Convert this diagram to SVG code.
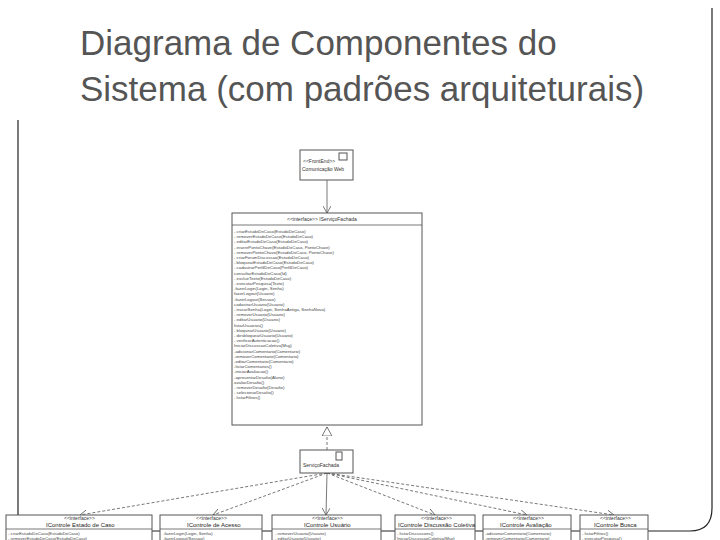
<svg xmlns="http://www.w3.org/2000/svg" width="720" height="540" viewBox="0 0 720 540">
<defs>
<style>
.t{font-family:"Liberation Sans",Arial,sans-serif;fill:#555;font-size:35px}
.b{fill:#fff;stroke:#555;stroke-width:1}
.s{font-family:"Liberation Sans",Arial,sans-serif;fill:#333;font-size:5px}
.m{font-family:"Liberation Sans",Arial,sans-serif;fill:#444;font-size:4.3px}
.h{font-family:"Liberation Sans",Arial,sans-serif;fill:#222;font-size:6px}
.c{stroke:#555;stroke-width:0.8;fill:none}
.d{stroke:#555;stroke-width:0.8;fill:none;stroke-dasharray:3,2}
</style>
<marker id="v" markerWidth="8" markerHeight="8" refX="7" refY="4" orient="auto" markerUnits="userSpaceOnUse"><path d="M0,0 L7,4 L0,8" fill="none" stroke="#555" stroke-width="0.8"/></marker>
<marker id="tri" markerWidth="10" markerHeight="10" refX="9" refY="5" orient="auto" markerUnits="userSpaceOnUse"><path d="M0,0 L9,5 L0,10 Z" fill="#fff" stroke="#555" stroke-width="0.8"/></marker>
</defs>
<path d="M18,120 L18,531 L650,531 M650,531 L690,531 Q712,531 712,508 L712,8" fill="none" stroke="#222" stroke-width="1.2"/>
<text class="t" x="80" y="55">Diagrama de Componentes do</text>
<text class="t" x="80" y="101">Sistema (com padrões arquiteturais)</text>
<g id="connectors">
<line class="c" x1="327" y1="180" x2="327" y2="213" marker-end="url(#v)"/>
<line class="d" x1="327" y1="450" x2="327" y2="427" marker-end="url(#tri)"/>
<line class="d" x1="327" y1="473" x2="80" y2="515" marker-end="url(#v)"/>
<line class="d" x1="327" y1="473" x2="213" y2="515" marker-end="url(#v)"/>
<line class="c" x1="327" y1="473" x2="326" y2="515" marker-end="url(#v)"/>
<line class="d" x1="327" y1="473" x2="435" y2="515" marker-end="url(#v)"/>
<line class="d" x1="327" y1="473" x2="527" y2="515" marker-end="url(#v)"/>
<line class="d" x1="327" y1="473" x2="614" y2="515" marker-end="url(#v)"/>
</g>
<g id="web">
<rect class="b" x="300" y="150" width="53" height="30"/>
<rect class="b" x="339" y="153" width="8" height="7"/>
<text class="s" x="303" y="163">&lt;&lt;FrontEnd&gt;&gt;</text>
<text class="s" x="302" y="171">Comunicação Web</text>
</g>
<g id="iservico">
<rect class="b" x="232" y="213" width="190" height="212"/>
<line class="c" x1="232" y1="225" x2="422" y2="225"/>
<text class="s" x="287" y="221">&lt;&lt;interface&gt;&gt; IServiçoFachada</text>
<g class="m">
<text x="234" y="233">- criarEstudoDeCaso(EstudoDeCaso)</text>
<text x="234" y="238.2">- removerEstudoDeCaso(EstudoDeCaso)</text>
<text x="234" y="243.4">- editarEstudoDeCaso(EstudoDeCaso)</text>
<text x="234" y="248.6">- inserirPontoChave(EstudoDeCaso, PontoChave)</text>
<text x="234" y="253.8">- removerPontoChave(EstudoDeCaso, PontoChave)</text>
<text x="234" y="259">- criarForumDiscussao(EstudoDeCaso)</text>
<text x="234" y="264.2">- bloquearEstudoDeCaso(EstudoDeCaso)</text>
<text x="234" y="269.4">- cadastrarPerfilDeCaso(PerfilDeCaso)</text>
<text x="234" y="274.6">  consultarEstudoDeCaso(Id)</text>
<text x="234" y="279.8">- excluirTexto(EstudoDeCaso)</text>
<text x="234" y="285">- executarPesquisa(Texto)</text>
<text x="234" y="290.2">-fazerLogin(Login, Senha)</text>
<text x="234" y="295.4"> fazerLogout(Usuario)</text>
<text x="234" y="300.6">-fazerLogout(Sessao)</text>
<text x="234" y="305.8"> cadastrarUsuario(Usuario)</text>
<text x="234" y="311">- trocarSenha(Login, SenhaAntiga, SenhaNova)</text>
<text x="234" y="316.2">- removerUsuario(Usuario)</text>
<text x="234" y="321.4">- editarUsuario(Usuario)</text>
<text x="234" y="326.6">  listarUsuarios()</text>
<text x="234" y="331.8">- bloquearUsuario(Usuario)</text>
<text x="234" y="337">- desbloquearUsuario(Usuario)</text>
<text x="234" y="342.2">- verificarAutenticacao()</text>
<text x="234" y="347.4"> IniciarDiscussaoColetiva(Msg)</text>
<text x="234" y="352.6">-adicionarComentario(Comentario)</text>
<text x="234" y="357.8">-removerComentario(Comentario)</text>
<text x="234" y="363">-editarComentario(Comentario)</text>
<text x="234" y="368.2">-listarComentarios()</text>
<text x="234" y="373.4">-iniciarAvaliacao()</text>
<text x="234" y="378.6">-apresentarDesafio(Aluno)</text>
<text x="234" y="383.8">  avaliarDesafio()</text>
<text x="234" y="389">- removerDesafio(Desafio)</text>
<text x="234" y="394.2">- selecionarDesafio()</text>
<text x="234" y="399.4">- listarFiltros()</text>
</g>
</g>
<g id="fachada">
<rect class="b" x="300" y="450" width="53" height="23"/>
<rect class="b" x="336" y="452" width="6" height="8"/>
<text class="s" x="303" y="467">ServiçoFachada</text>
</g>
<g id="i1">
<rect class="b" x="6" y="515" width="146" height="30"/>
<line class="c" x1="6" y1="529" x2="152" y2="529"/>
<text class="s" x="64" y="520">&lt;&lt;interface&gt;&gt;</text>
<text class="h" x="46" y="527">IControle Estado de Caso</text>
<text class="m" x="8" y="535">- criarEstudoDeCaso(EstudoDeCaso)</text>
<text class="m" x="8" y="540">- removerEstudoDeCaso(EstudoDeCaso)</text>
</g>
<g id="i2">
<rect class="b" x="160" y="515" width="102" height="30"/>
<line class="c" x1="160" y1="529" x2="262" y2="529"/>
<text class="s" x="196" y="520">&lt;&lt;interface&gt;&gt;</text>
<text class="h" x="187" y="527">IControle de Acesso</text>
<text class="m" x="163" y="535">-fazerLogin(Login, Senha)</text>
<text class="m" x="163" y="540">-fazerLogout(Sessao)</text>
</g>
<g id="i3">
<rect class="b" x="272" y="515" width="109" height="30"/>
<line class="c" x1="272" y1="529" x2="381" y2="529"/>
<text class="s" x="312" y="520">&lt;&lt;interface&gt;&gt;</text>
<text class="h" x="304" y="527">IControle Usuário</text>
<text class="m" x="275" y="535">- removerUsuario(Usuario)</text>
<text class="m" x="275" y="540">- editarUsuario(Usuario)</text>
</g>
<g id="i4">
<rect class="b" x="395" y="515" width="80" height="30"/>
<line class="c" x1="395" y1="529" x2="475" y2="529"/>
<text class="s" x="421" y="520">&lt;&lt;interface&gt;&gt;</text>
<text class="h" x="398" y="527">IControle Discussão Coletiva</text>
<text class="m" x="397" y="535">- listarDiscussoes()</text>
<text class="m" x="397" y="540">IniciarDiscussaoColetiva(Msg)</text>
</g>
<g id="i5">
<rect class="b" x="483" y="515" width="88" height="30"/>
<line class="c" x1="483" y1="529" x2="571" y2="529"/>
<text class="s" x="513" y="520">&lt;&lt;interface&gt;&gt;</text>
<text class="h" x="500" y="527">IControle Avaliação</text>
<text class="m" x="485" y="535">-adicionarComentario(Comentario)</text>
<text class="m" x="485" y="540">-removerComentario(Comentario)</text>
</g>
<g id="i6">
<rect class="b" x="580" y="515" width="68" height="30"/>
<line class="c" x1="580" y1="529" x2="648" y2="529"/>
<text class="s" x="600" y="520">&lt;&lt;interface&gt;&gt;</text>
<text class="h" x="594" y="527">IControle Busca</text>
<text class="m" x="582" y="535">- listarFiltros()</text>
<text class="m" x="582" y="540">- executarPesquisa()</text>
</g>
</svg>
